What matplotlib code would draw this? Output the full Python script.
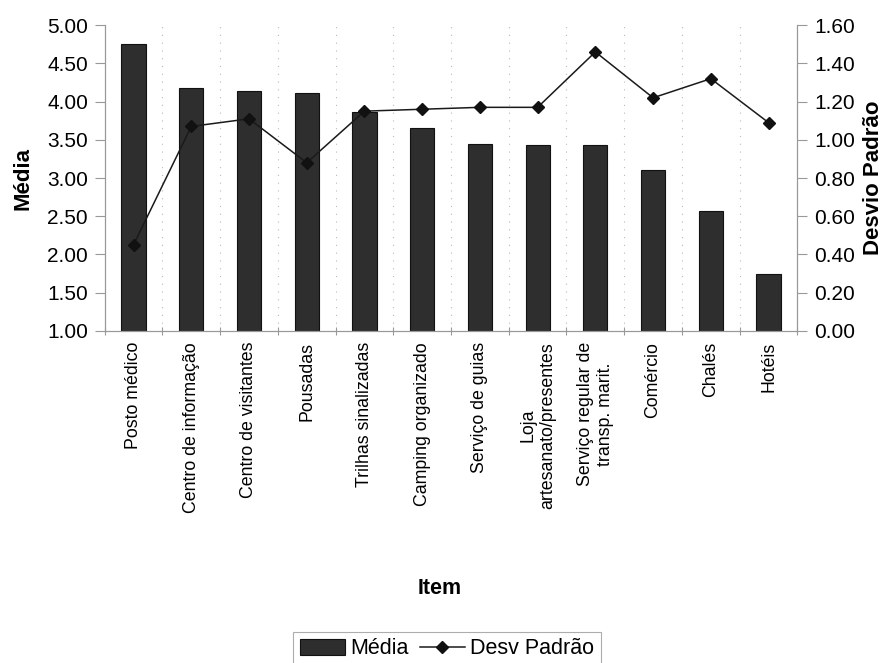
import matplotlib
matplotlib.use("Agg")
import matplotlib.pyplot as plt
import numpy as np

plt.rcParams['font.family'] = ['Liberation Sans', 'DejaVu Sans']

categories = [
    "Posto médico", "Centro de informação", "Centro de visitantes", "Pousadas",
    "Trilhas sinalizadas", "Camping organizado", "Serviço de guias",
    "Loja\nartesanato/presentes", "Serviço regular de\ntransp. marit.",
    "Comércio", "Chalés", "Hotéis",
]
media = [4.76, 4.18, 4.14, 4.11, 3.87, 3.66, 3.45, 3.43, 3.43, 3.11, 2.57, 1.75]
desvio = [0.45, 1.07, 1.11, 0.88, 1.15, 1.16, 1.17, 1.17, 1.46, 1.22, 1.32, 1.09]

left_ticks = [1.00, 1.50, 2.00, 2.50, 3.00, 3.50, 4.00, 4.50, 5.00]
right_ticks = [0.00, 0.20, 0.40, 0.60, 0.80, 1.00, 1.20, 1.40, 1.60]

fig = plt.figure(figsize=(8.87, 6.63), dpi=100)
ax = fig.add_axes([0.118, 0.501, 0.781, 0.461])
ax2 = ax.twinx()

x = np.arange(len(categories))
bars = ax.bar(x, np.array(media) - 1.0, bottom=1.0, width=0.42,
              color='#2e2e2e', edgecolor='#111111', linewidth=0.8, zorder=2,
              label='Média')
line, = ax2.plot(x, desvio, color='#1a1a1a', linewidth=1.1, marker='D',
                 markersize=6, markerfacecolor='#111111', markeredgecolor='#111111',
                 zorder=3, label='Desv Padrão')

ax.set_xlim(-0.5, len(categories) - 0.5)
ax.set_ylim(1.0, 5.0)
ax2.set_ylim(0.0, 1.6)

ax.set_yticks(left_ticks)
ax.set_yticklabels([f"{v:.2f}" for v in left_ticks], fontsize=15)
ax2.set_yticks(right_ticks)
ax2.set_yticklabels([f"{v:.2f}" for v in right_ticks], fontsize=15)

ax.set_xticks(x)
ax.set_xticklabels(categories, rotation=90, fontsize=12.8, ha='center', va='top',
                   multialignment='center', linespacing=1.25)
ax.tick_params(axis='x', which='major', length=0, pad=8)
ax.set_xticks(np.arange(-0.5, len(categories), 1.0), minor=True)
ax.tick_params(axis='x', which='minor', direction='inout', length=6,
               color='#999999', width=0.8)
ax.grid(axis='x', which='minor', linestyle=(0, (1, 6)), color='#bbbbbb',
        linewidth=0.8, zorder=0)

ax.tick_params(axis='y', direction='out', length=7, color='#999999', width=0.8, pad=5)
ax2.tick_params(axis='y', direction='out', length=7, color='#999999', width=0.8, pad=5)

for a in (ax, ax2):
    a.spines['top'].set_visible(False)
    for s in ('left', 'right', 'bottom'):
        a.spines[s].set_color('#999999')
        a.spines[s].set_linewidth(0.8)

ax.set_ylabel('Média', fontsize=16, fontweight='bold', labelpad=10)
ax2.set_ylabel('Desvio Padrão', fontsize=16, fontweight='bold', labelpad=6)
fig.text(0.496, 1 - 589 / 663, 'Item', ha='center', va='center',
         fontsize=15.5, fontweight='bold')

leg = fig.legend(handles=[bars, line], labels=['Média', 'Desv Padrão'],
                 loc='center', bbox_to_anchor=(0.504, 1 - 649 / 663), ncol=2,
                 fontsize=15.5, frameon=True, fancybox=False, handlelength=2.1,
                 handletextpad=0.25, columnspacing=0.5, borderpad=0.3,
                 borderaxespad=0)
leg.get_frame().set_edgecolor('#999999')
leg.get_frame().set_linewidth(0.8)

fig.savefig('out.png', dpi=100)
